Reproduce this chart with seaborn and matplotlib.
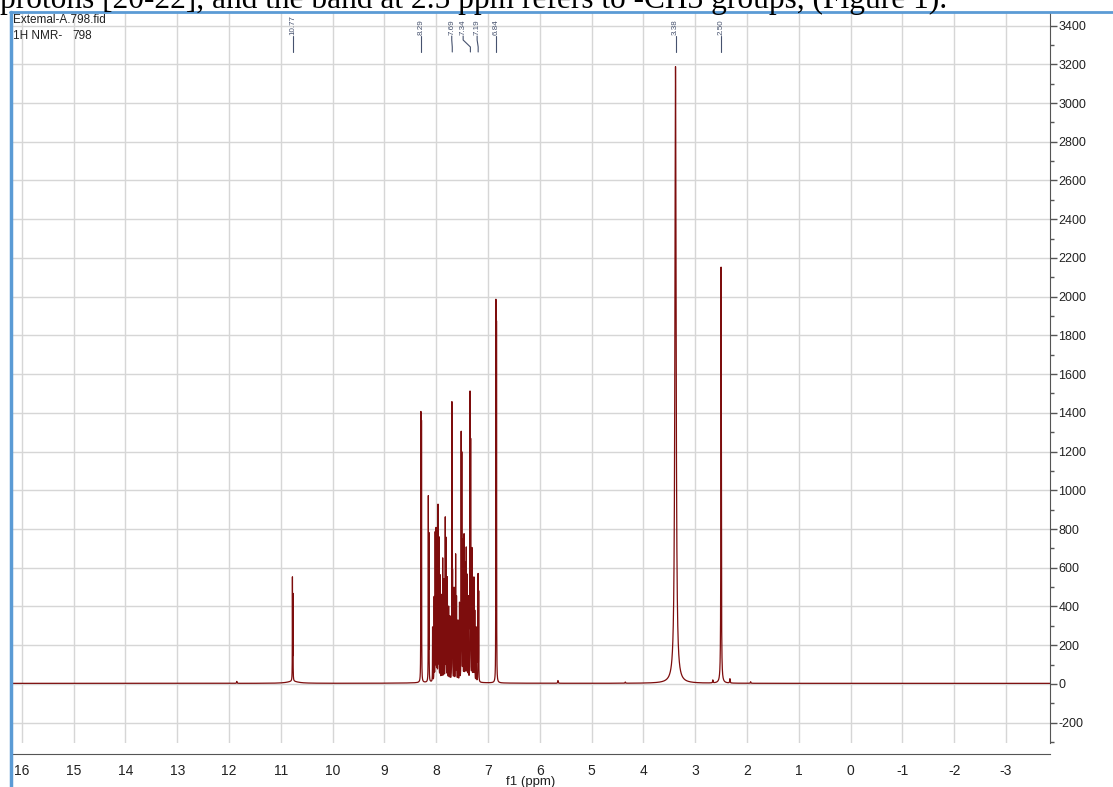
import numpy as np
import pandas as pd
import matplotlib.pyplot as plt
import seaborn as sns
from matplotlib.lines import Line2D
from matplotlib.ticker import MultipleLocator, FuncFormatter
import matplotlib.transforms as mtransforms

# peak list: position (ppm), height, line width (ppm)
peak_ppm = [10.776, 10.766,
            8.296, 8.284, 8.152, 8.140, 8.07, 8.04, 8.020, 8.003, 7.985, 7.965,
            7.948, 7.925, 7.900, 7.875, 7.850, 7.825, 7.808, 7.785, 7.760, 7.735,
            7.697, 7.685, 7.655, 7.625, 7.608, 7.58, 7.55, 7.518, 7.506, 7.485,
            7.462, 7.440, 7.420, 7.400, 7.380, 7.347, 7.335, 7.310, 7.290, 7.272,
            7.255, 7.228, 7.192, 7.180,
            6.848, 6.836,
            3.38, 2.50,
            11.85, 5.65, 4.35, 2.66, 2.33, 1.93,
            10.77, 7.70]
peak_height = [525, 435,
               1370, 1320, 950, 750, 280, 430, 760, 780, 580, 900,
               730, 540, 440, 630, 520, 840, 730, 530, 380, 330,
               1430, 540, 480, 650, 430, 310, 400, 1260, 1150, 720,
               750, 600, 680, 540, 430, 1470, 1220, 680, 380, 530,
               360, 280, 550, 460,
               1940, 1830,
               3185, 2150,
               10, 14, 6, 15, 22, 8,
               10, 8]
peak_width = [0.004, 0.004] + [0.004] * 44 + [0.004, 0.004] + [0.028, 0.009] + \
             [0.01] * 6 + [0.25, 0.9]
baseline = 3

# peak labels at the top
label_text = ["10.77", "8.29", "7.69", "7.34", "7.19", "6.84", "3.38", "2.50"]
label_peak = [10.77, 8.29, 7.69, 7.34, 7.19, 6.84, 3.38, 2.50]
label_pos = [10.77, 8.29, 7.70, 7.48, 7.21, 6.84, 3.38, 2.50]

y_ticks = list(range(-200, 3401, 200))

# build the spectrum line from the peak list
ppm = np.linspace(16.19, -3.85, 60000)
inten = np.full_like(ppm, baseline, dtype=float)
for p, h, w in zip(peak_ppm, peak_height, peak_width):
    hw = w / 2
    inten += h * hw**2 / ((ppm - p) ** 2 + hw**2)
df = pd.DataFrame({"ppm": ppm, "intensity": inten})

sns.set_style("white")
plt.rcParams["font.family"] = ["Liberation Sans", "DejaVu Sans"]
plt.rcParams["axes.unicode_minus"] = False

W, H = 1113, 787
fig = plt.figure(figsize=(W / 100, H / 100), dpi=100)
ax = fig.add_axes([12 / W, 44 / H, 1038 / W, 731 / H])

ax.grid(True, which="major", color="#d6d6d6", linewidth=1.0)
ax.set_axisbelow(True)
sns.lineplot(data=df, x="ppm", y="intensity", estimator=None, sort=False,
             color="#7d0d0d", linewidth=0.9, ax=ax)

ax.set_xlim(16.19, -3.85)
ax.set_ylim(-305, 3470)

ax.xaxis.set_major_locator(MultipleLocator(1))
ax.xaxis.set_minor_locator(MultipleLocator(0.5))
ax.xaxis.set_major_formatter(FuncFormatter(lambda v, _: "%d" % round(v)))
ax.yaxis.tick_right()
ax.set_yticks(y_ticks)
ax.yaxis.set_minor_locator(MultipleLocator(100))

for s in ["left", "top"]:
    ax.spines[s].set_visible(False)
ax.spines["bottom"].set_position(("outward", 8))
ax.spines["bottom"].set_color("#555555")
ax.spines["right"].set_color("#555555")

ax.tick_params(axis="x", which="major", direction="out", length=5, width=1,
               color="#555555", labelsize=10, labelcolor="#222222", pad=2)
ax.tick_params(axis="x", which="minor", direction="out", length=3, width=1, color="#555555")
ax.tick_params(axis="y", which="major", direction="out", length=5, width=1,
               color="#555555", labelsize=9, labelcolor="#222222", pad=1)
ax.tick_params(axis="y", which="minor", direction="out", length=3, width=1, color="#555555")

ax.set_xlabel("f1 (ppm)", fontsize=9.5, color="#222222", labelpad=-1.5)
ax.set_ylabel("")

# peak labels with connectors
trans = mtransforms.blended_transform_factory(ax.transData, ax.transAxes)
def yfrac(px):
    return 1 - (px - 12) / 731
for t, pk, pos in zip(label_text, label_peak, label_pos):
    ax.text(pos, yfrac(35), t, rotation=90, ha="center", va="bottom",
            fontsize=5.8, color="#46526e", transform=trans)
    ax.plot([pos, pos, pk, pk], [yfrac(36), yfrac(40), yfrac(47), yfrac(52)],
            color="#46526e", linewidth=0.8, transform=trans, clip_on=False)

# header texts
fig.text(13 / W, 1 - 14 / H, "Extemal-A.798.fid", fontsize=8.5, va="top", color="#222222")
fig.text(13 / W, 1 - 30 / H, "1H NMR-", fontsize=8.5, va="top", color="#222222")
fig.text(72 / W, 1 - 30 / H, "798", fontsize=8.5, va="top", color="#222222")

# document text cut off above the screenshot
fig.text(0.0, 1 - 8 / H,
         "protons [20-22], and the band at 2.5 ppm refers to -CH3 groups, (Figure 1).",
         family="Liberation Serif", fontsize=22.6, va="baseline", ha="left", color="black")

# blue window frame
fig.add_artist(Line2D([10 / W, 1], [1 - 12 / H, 1 - 12 / H], transform=fig.transFigure,
                      color="#5b9bd5", linewidth=2))
fig.add_artist(Line2D([11 / W, 11 / W], [0, 1 - 12 / H], transform=fig.transFigure,
                      color="#5b9bd5", linewidth=2.5))

fig.savefig("out.png", dpi=100)
